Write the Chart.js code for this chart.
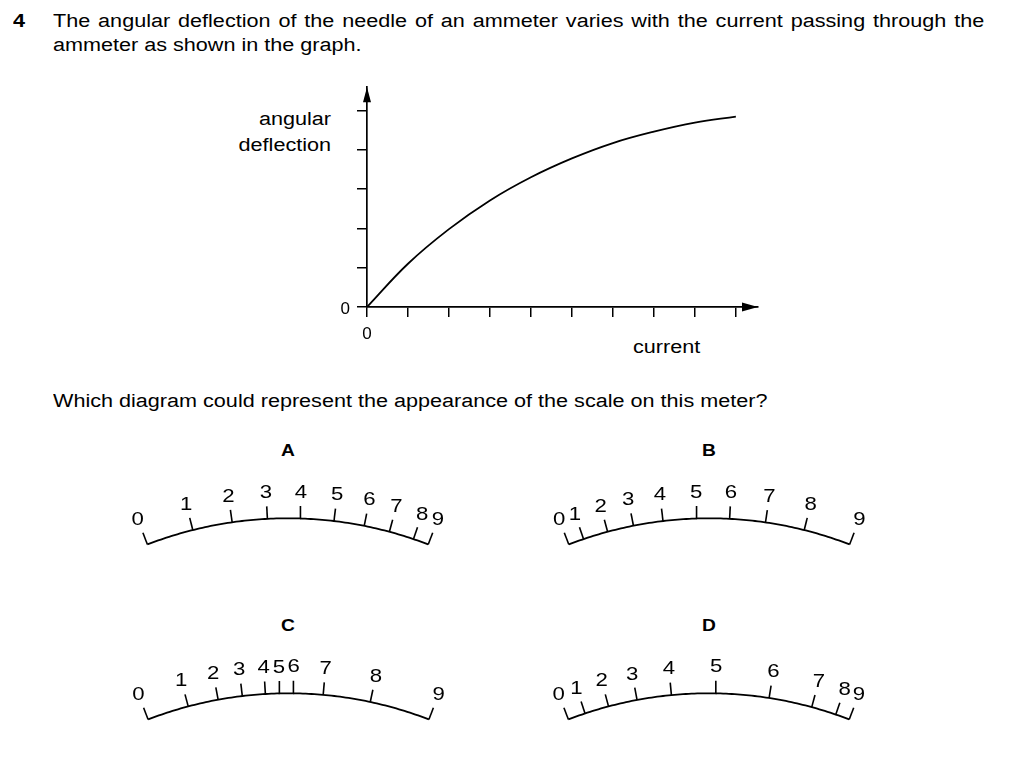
<!DOCTYPE html>
<html>
<head>
<meta charset="utf-8">
<script src="https://cdn.jsdelivr.net/npm/chart.js@4.4.1/dist/chart.umd.min.js"></script>
<style>
html,body{margin:0;padding:0;background:#fff;}
body{width:1024px;height:764px;position:relative;overflow:hidden;font-family:"Liberation Sans",Arial,Helvetica,sans-serif;color:#000;}
.t{position:absolute;font-size:18px;line-height:24px;white-space:nowrap;transform:scaleX(1.2);transform-origin:0 0;}
.lab{position:absolute;width:100px;text-align:center;font-weight:bold;font-size:16px;line-height:20px;transform:scaleX(1.2);transform-origin:50% 0;}
canvas{position:absolute;}
</style>
</head>
<body>
<div class="t" style="left:13px;top:8.5px;font-weight:bold">4</div>
<div class="t" style="left:53px;top:8.5px;width:776px;white-space:normal;text-align:justify">The angular deflection of the needle of an ammeter varies with the current passing through the ammeter as shown in the graph.</div>
<div class="t" style="right:693px;top:105.8px;line-height:26px;text-align:right;transform-origin:100% 0">angular<br>deflection</div>
<div class="t" style="left:633px;top:335px">current</div>
<div class="t" style="left:53px;top:388.5px">Which diagram could represent the appearance of the scale on this meter?</div>

<canvas id="graph" width="480" height="300" style="left:300px;top:70px"></canvas>

<div class="lab" style="left:238px;top:441px">A</div>
<div class="lab" style="left:659px;top:441px">B</div>
<div class="lab" style="left:238px;top:615.5px">C</div>
<div class="lab" style="left:659px;top:615.5px">D</div>

<canvas id="dialA" width="360" height="110"></canvas>
<canvas id="dialB" width="360" height="110"></canvas>
<canvas id="dialC" width="360" height="110"></canvas>
<canvas id="dialD" width="360" height="110"></canvas>

<script>
// ---- Graph data ----
const currentValues = [0, 1, 2, 3, 4, 5, 6, 7, 8, 9];
const deflectionValues = [0, 1.1, 1.98, 2.71, 3.3, 3.78, 4.17, 4.46, 4.69, 4.84];

// ---- Meter scale data: tick labels and angular position (degrees from centre) ----
const scaleLabels = ['0', '1', '2', '3', '4', '5', '6', '7', '8', '9'];
const anglesA = [-21.1, -14.1, -8.2, -3.0, 1.8, 6.8, 11.3, 15.1, 18.8, 21.1];
const anglesB = [-21.1, -18.8, -15.1, -11.2, -6.8, -1.8, 3.0, 8.3, 14.1, 21.1];
const anglesC = [-21.1, -14.9, -10.4, -6.8, -3.4, -1.3, 0.7, 5.1, 12.1, 21.1];
const anglesD = [-21.1, -18.5, -14.9, -10.6, -5.5, 1.0, 8.9, 15.3, 19.0, 21.1];

const D2R = Math.PI / 180;
const RADIUS = 390, TICK_LEN = 12.5, LABEL_GAP = 27;

// ---- Main graph ----
const arrowPlugin = {
  id: 'axisArrows',
  afterDraw(chart) {
    const {ctx, chartArea: a} = chart;
    ctx.save();
    ctx.fillStyle = '#000';
    ctx.beginPath();
    ctx.moveTo(a.left, a.top);
    ctx.lineTo(a.left - 4, a.top + 15);
    ctx.lineTo(a.left + 4, a.top + 15);
    ctx.closePath();
    ctx.fill();
    ctx.beginPath();
    ctx.moveTo(a.right, a.bottom);
    ctx.lineTo(a.right - 16, a.bottom - 4.5);
    ctx.lineTo(a.right - 16, a.bottom + 4.5);
    ctx.closePath();
    ctx.fill();
    ctx.restore();
  }
};

const axisCommon = (maxV, fitFn, labelOffset) => ({
  type: 'linear', min: 0, max: maxV,
  ticks: {
    stepSize: 1, includeBounds: false, autoSkip: false, maxRotation: 0,
    padding: 7, color: '#000', labelOffset: labelOffset,
    font: {family: '"Liberation Sans", Arial, sans-serif', size: 17},
    callback: v => (v === 0 ? '0' : '')
  },
  grid: {drawOnChartArea: false, drawTicks: true, tickLength: 10, color: '#000', lineWidth: 1.5},
  border: {display: true, color: '#000', width: 1.7},
  afterFit: fitFn
});

new Chart(document.getElementById('graph'), {
  type: 'scatter',
  data: {
    datasets: [{
      data: currentValues.map((c, i) => ({x: c, y: deflectionValues[i]})),
      showLine: true,
      borderColor: '#000',
      borderWidth: 1.8,
      pointRadius: 0,
      tension: 0.4,
      fill: false
    }]
  },
  options: {
    responsive: false,
    animation: false,
    events: [],
    layout: {padding: {top: 15, right: 22, left: 0, bottom: 0}},
    plugins: {legend: {display: false}, tooltip: {enabled: false}},
    scales: {
      x: axisCommon(9.54, s => { s.height = 63; }, 0),
      y: axisCommon(5.59, s => { s.width = 67; }, 2.5)
    }
  },
  plugins: [arrowPlugin]
});

// ---- Meter scales ----
const dialLabelPlugin = {
  id: 'dialLabels',
  afterDatasetsDraw(chart, args, opts) {
    const {ctx} = chart;
    const xs = chart.scales.x, ys = chart.scales.y;
    ctx.save();
    ctx.fillStyle = '#000';
    ctx.font = '18.5px "Liberation Sans", Arial, sans-serif';
    ctx.textAlign = 'center';
    ctx.textBaseline = 'middle';
    opts.angles.forEach((a, i) => {
      const r = RADIUS + LABEL_GAP;
      const px = xs.getPixelForValue(r * Math.sin(a * D2R));
      const py = ys.getPixelForValue(r * Math.cos(a * D2R));
      ctx.save();
      ctx.translate(px, py + 1);
      ctx.scale(1.2, 1);
      ctx.fillText(opts.labels[i], 0, 0);
      ctx.restore();
    });
    ctx.restore();
  }
};

function makeDial(id, angles, cx, topY) {
  const cv = document.getElementById(id);
  const W = cv.width, H = cv.height;
  const left = Math.round(cx - W / 2), top = Math.round(topY - 60);
  cv.style.left = left + 'px';
  cv.style.top = top + 'px';
  const xMin = left - cx, yMax = RADIUS + (topY - top);
  const a0 = angles[0], a1 = angles[angles.length - 1];
  const arc = [];
  for (let k = 0; k <= 100; k++) {
    const a = (a0 + (a1 - a0) * k / 100) * D2R;
    arc.push({x: RADIUS * Math.sin(a), y: RADIUS * Math.cos(a)});
  }
  const lineStyle = {showLine: true, borderColor: '#000', borderWidth: 1.8, pointRadius: 0, fill: false, borderCapStyle: 'butt'};
  const datasets = [Object.assign({data: arc}, lineStyle)];
  angles.forEach(a => {
    const s = Math.sin(a * D2R), c = Math.cos(a * D2R);
    datasets.push(Object.assign({
      data: [{x: RADIUS * s, y: RADIUS * c}, {x: (RADIUS + TICK_LEN) * s, y: (RADIUS + TICK_LEN) * c}]
    }, lineStyle, {borderWidth: 1.6}));
  });
  new Chart(cv, {
    type: 'scatter',
    data: {datasets},
    options: {
      responsive: false,
      animation: false,
      events: [],
      layout: {padding: 0},
      plugins: {legend: {display: false}, tooltip: {enabled: false},
        dialLabels: {angles: angles, labels: scaleLabels}},
      scales: {
        x: {type: 'linear', display: false, min: xMin, max: xMin + W},
        y: {type: 'linear', display: false, min: yMax - H, max: yMax}
      }
    },
    plugins: [dialLabelPlugin]
  });
}

makeDial('dialA', anglesA, 287.8, 518.3);
makeDial('dialB', anglesB, 709.2, 518.3);
makeDial('dialC', anglesC, 288.5, 693.3);
makeDial('dialD', anglesD, 708.8, 693.3);
</script>
</body>
</html>
